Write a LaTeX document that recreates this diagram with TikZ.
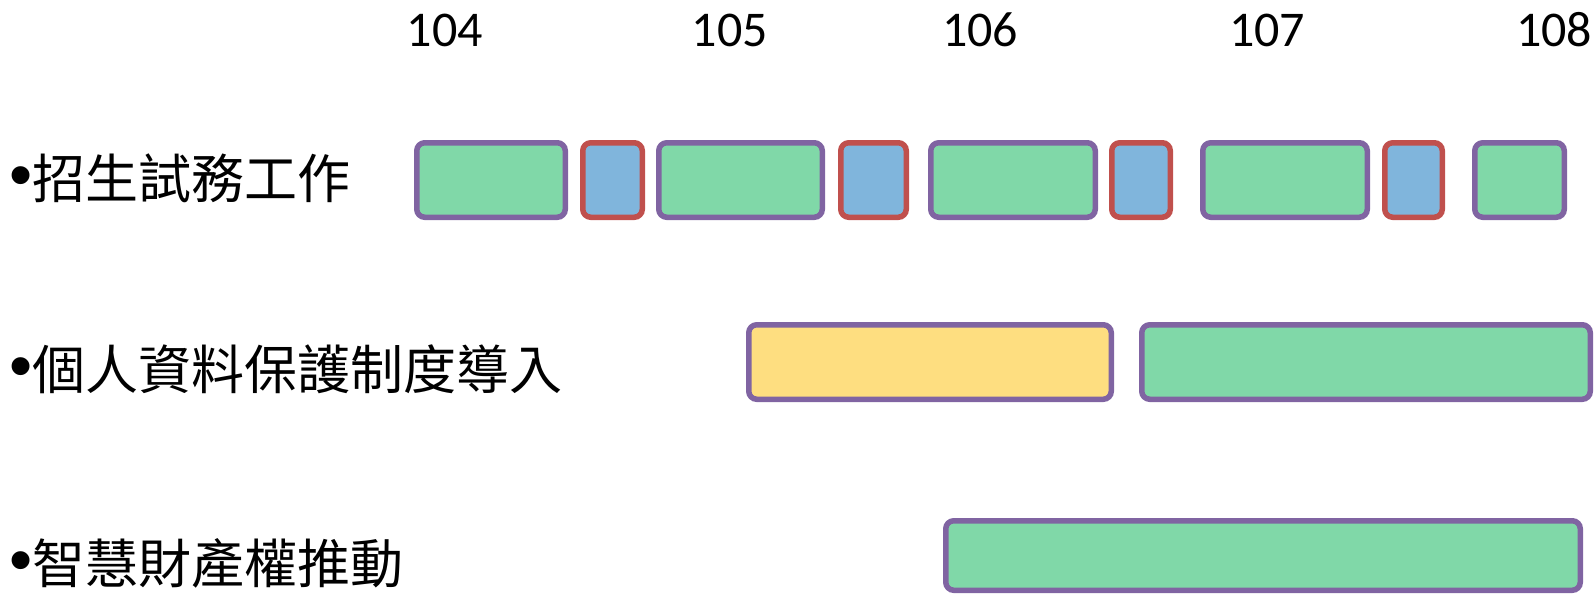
\documentclass[tikz,border=0pt]{standalone}
\usepackage{fontspec}
\setmainfont{Carlito}
\newfontfamily\cjk{Noto Sans CJK TC}
\newfontfamily\bul{Liberation Sans}
\definecolor{gfill}{RGB}{128,216,168}
\definecolor{bfill}{RGB}{128,181,220}
\definecolor{yfill}{RGB}{254,222,128}
\definecolor{pline}{RGB}{128,100,162}
\definecolor{rline}{RGB}{192,80,77}
\tikzset{
 barbox/.style={draw, line width=5.5pt, rounded corners=8pt, inner sep=0pt, outer sep=0pt},
 gbar/.style={barbox, fill=gfill, draw=pline},
 bbar/.style={barbox, fill=bfill, draw=rline},
 ybar/.style={barbox, fill=yfill, draw=pline},
 yearlbl/.style={font=\fontsize{50}{60}\selectfont, anchor=base, inner sep=0pt},
 tasklbl/.style={font=\fontsize{53}{64}\selectfont, anchor=base west, inner sep=0pt},
}
\newcommand\taskbar[6]{%
 \node[#2, minimum width={(#4-#3-5.5)*1pt}, minimum height={(#6-#5-5.5)*1pt}] (#1) at ({(#3+#4)/2},{(#5+#6)/2}) {};}
\newcommand\tasktext[1]{{\bul\fontsize{66}{66}\selectfont\smash{\raisebox{1pt}{•}}}{\cjk\smash{#1}}}
\begin{document}
\begin{tikzpicture}[x=1pt,y=-1pt]
\useasboundingbox (0,0) rectangle (1594,594);
% years
\node[yearlbl] (y104) at (445,47) {104};
\node[yearlbl] (y105) at (730,47) {105};
\node[yearlbl] (y106) at (980,47) {106};
\node[yearlbl] (y107) at (1267,47) {107};
\node[yearlbl] (y108) at (1554,47) {108};
% task labels
\node[tasklbl] (t1) at (9,198) {\tasktext{招生試務工作}};
\node[tasklbl] (t2) at (9,389) {\tasktext{個人資料保護制度導入}};
\node[tasklbl] (t3) at (9,583) {\tasktext{智慧財產權推動}};
% row 1
\taskbar{a1}{gbar}{414}{568}{140}{220}
\taskbar{a2}{bbar}{580}{645}{140}{220}
\taskbar{a3}{gbar}{656}{825}{140}{220}
\taskbar{a4}{bbar}{838}{909}{140}{220}
\taskbar{a5}{gbar}{928}{1098}{140}{220}
\taskbar{a6}{bbar}{1109}{1173}{140}{220}
\taskbar{a7}{gbar}{1200}{1370}{140}{220}
\taskbar{a8}{bbar}{1382}{1445}{140}{220}
\taskbar{a9}{gbar}{1472}{1567}{140}{220}
% row 2
\taskbar{b1}{ybar}{746}{1114}{322}{402}
\taskbar{b2}{gbar}{1139}{1593}{322}{402}
% row 3
\taskbar{c1}{gbar}{943}{1583}{518}{593}
\end{tikzpicture}
\end{document}
